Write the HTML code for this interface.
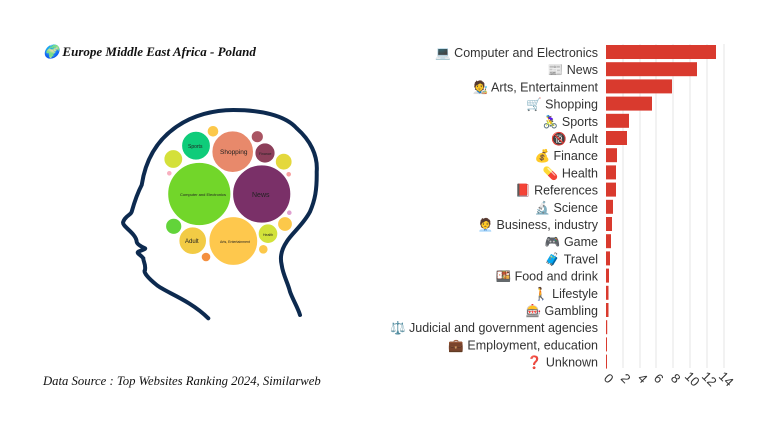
<!DOCTYPE html><html><head><meta charset="utf-8"><style>
body{margin:0;background:#fff;width:768px;height:432px;overflow:hidden;font-family:"Liberation Sans",sans-serif}
</style></head><body>
<svg width="768" height="432" xmlns="http://www.w3.org/2000/svg">
<text x="43" y="56" font-family="Liberation Serif,serif" font-style="italic" font-weight="bold" font-size="13" fill="#111">🌍 Europe Middle East Africa - Poland</text>
<text x="43" y="385" font-family="Liberation Serif,serif" font-style="italic" font-size="12.7" fill="#111">Data Source : Top Websites Ranking 2024, Similarweb</text>
<path d="M208.3,318.3 C190,300 165,292 156.7,285 C148,278 143,272 145,270 C146,264 143,261 143.3,258.3 C141,255 136,253 138.3,251.7 C142,250 146,249 145,248.3 C140,246 137,244 136.7,241.7 C136,233 121,226 123.3,221.7 C125,216 131,215 131.7,211.7 C135,200 138,192 141.7,185 C150,130 195,110 233.3,110 C260,110 285,115 296.7,128.3 C310,140 318,155 316.7,171.7 C317,190 315,200 310,211.7 C303,225 292,233 286.7,241.7 C281,250 280,258 281.7,265 C283,275 288,283 290,291.7 C293,300 298,308 300,315" fill="none" stroke="#0d2a4f" stroke-width="4" stroke-linecap="round"/>
<g stroke="#fff" stroke-width="0.8">
<circle cx="199.3" cy="194" r="31.5" fill="#72d62a"/>
<circle cx="261.7" cy="194" r="29" fill="#7a3068"/>
<circle cx="233.3" cy="241" r="24.3" fill="#fec84d"/>
<circle cx="232.7" cy="151.7" r="20.7" fill="#e8896b"/>
<circle cx="196" cy="145.7" r="14.3" fill="#0fcc7a"/>
<circle cx="192.7" cy="240.7" r="13.7" fill="#f2cb45"/>
<circle cx="265" cy="153" r="10" fill="#8c3f5a"/>
<circle cx="268" cy="233.7" r="9.7" fill="#d2e23a"/>
<circle cx="173.3" cy="159" r="9.3" fill="#d4e03a"/>
<circle cx="283.7" cy="161.7" r="8.3" fill="#e4d83c"/>
<circle cx="173.7" cy="226.3" r="8" fill="#62d43a"/>
<circle cx="285" cy="224" r="7.3" fill="#fcc84a"/>
<circle cx="213" cy="131.3" r="5.7" fill="#fcc84a"/>
<circle cx="257.3" cy="136.7" r="6" fill="#a95462"/>
<circle cx="263.3" cy="249.3" r="4.7" fill="#fcc84a"/>
<circle cx="206" cy="257" r="4.7" fill="#f49040"/>
<circle cx="169.3" cy="173.3" r="2.7" fill="#f8b0c0"/>
<circle cx="288.7" cy="174.3" r="2.7" fill="#f8a0a0"/>
<circle cx="289.3" cy="212.7" r="2.7" fill="#e0a0d0"/>
</g>
<g font-size="4" fill="#222">
<text x="180" y="196">Computer and Electronics</text>
<text x="252" y="197" font-size="7">News</text>
<text x="220" y="243" font-size="3.5">Arts, Entertainment</text>
<text x="220" y="154" font-size="6.5">Shopping</text>
<text x="188" y="148" font-size="5">Sports</text>
<text x="185" y="243" font-size="6">Adult</text>
<text x="259" y="155" font-size="3.5">Finance</text>
<text x="263" y="236" font-size="3.5">Health</text>
</g>
<g stroke="#e6e6e6" stroke-width="1">
<line x1="623" y1="44" x2="623" y2="368"/><line x1="640" y1="44" x2="640" y2="368"/><line x1="656" y1="44" x2="656" y2="368"/><line x1="673" y1="44" x2="673" y2="368"/><line x1="690" y1="44" x2="690" y2="368"/><line x1="707" y1="44" x2="707" y2="368"/><line x1="724" y1="44" x2="724" y2="368"/>
</g>
<g fill="#d93a2e">
<rect x="606" y="45" width="110" height="14"/>
<rect x="606" y="62.2" width="91" height="14"/>
<rect x="606" y="79.4" width="66" height="14"/>
<rect x="606" y="96.6" width="46" height="14"/>
<rect x="606" y="113.8" width="23" height="14"/>
<rect x="606" y="131" width="21" height="14"/>
<rect x="606" y="148.2" width="11" height="14"/>
<rect x="606" y="165.4" width="10" height="14"/>
<rect x="606" y="182.6" width="10" height="14"/>
<rect x="606" y="199.8" width="7" height="14"/>
<rect x="606" y="217" width="6" height="14"/>
<rect x="606" y="234.2" width="5" height="14"/>
<rect x="606" y="251.4" width="4" height="14"/>
<rect x="606" y="268.6" width="3" height="14"/>
<rect x="606" y="285.8" width="2.5" height="14"/>
<rect x="606" y="303" width="2.5" height="14"/>
<rect x="606" y="320.2" width="1.2" height="14"/>
<rect x="606" y="337.4" width="1" height="14"/>
<rect x="606" y="354.6" width="1" height="14"/>
</g>
<g font-size="12.5" fill="#333" text-anchor="end">
<text x="598" y="57">💻 Computer and Electronics</text>
<text x="598" y="74.2">📰 News</text>
<text x="598" y="91.4">🧑‍🎨 Arts, Entertainment</text>
<text x="598" y="108.6">🛒 Shopping</text>
<text x="598" y="125.8">🚴‍♀️ Sports</text>
<text x="598" y="143">🔞 Adult</text>
<text x="598" y="160.2">💰 Finance</text>
<text x="598" y="177.4">💊 Health</text>
<text x="598" y="194.6">📕 References</text>
<text x="598" y="211.8">🔬 Science</text>
<text x="598" y="229">🧑‍💼 Business, industry</text>
<text x="598" y="246.2">🎮 Game</text>
<text x="598" y="263.4">🧳 Travel</text>
<text x="598" y="280.6">🍱 Food and drink</text>
<text x="598" y="297.8">🚶 Lifestyle</text>
<text x="598" y="315">🎰 Gambling</text>
<text x="598" y="332.2">⚖️ Judicial and government agencies</text>
<text x="598" y="349.4">💼 Employment, education</text>
<text x="598" y="366.6">❓ Unknown</text>
</g>
<g font-size="13" fill="#333">
<text transform="translate(603,379) rotate(45)">0</text>
<text transform="translate(620,379) rotate(45)">2</text>
<text transform="translate(637,379) rotate(45)">4</text>
<text transform="translate(653,379) rotate(45)">6</text>
<text transform="translate(670,379) rotate(45)">8</text>
<text transform="translate(684,377) rotate(45)">10</text>
<text transform="translate(701,377) rotate(45)">12</text>
<text transform="translate(718,377) rotate(45)">14</text>
</g>
</svg>
</body></html>
